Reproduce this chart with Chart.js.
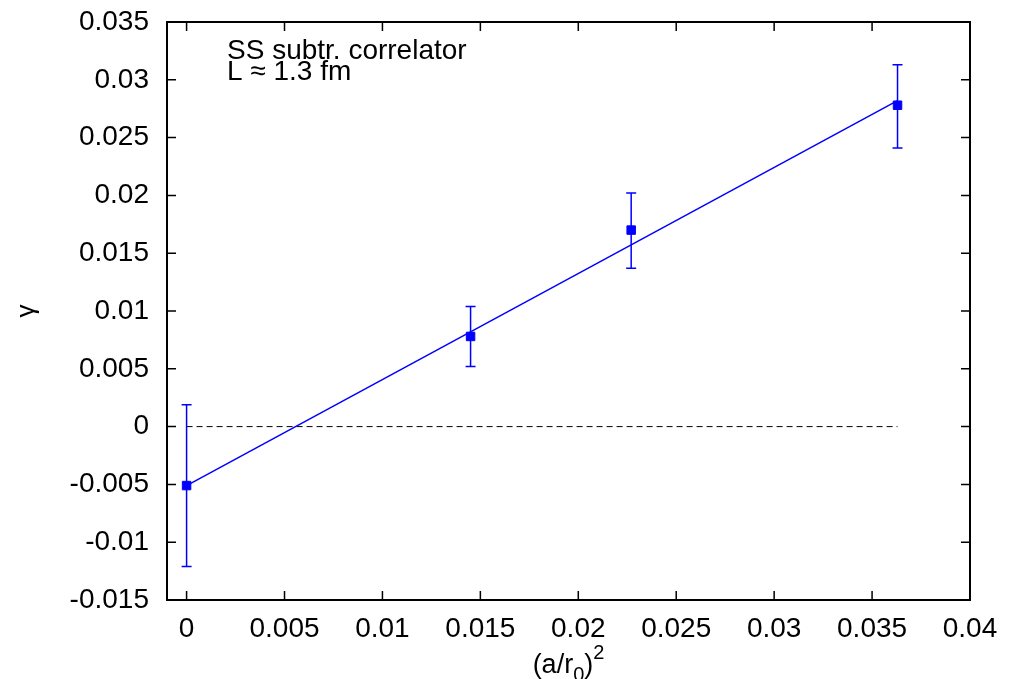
<!DOCTYPE html>
<html><head><meta charset="utf-8">
<script src="https://cdn.jsdelivr.net/npm/chart.js@4.4.1/dist/chart.umd.min.js"></script>
<style>html,body{margin:0;padding:0;background:#fff;}canvas{display:block;}</style>
</head><body>
<canvas id="c" width="1016" height="679"></canvas>
<script>
// ---- data ----
const xValues   = [0, 0.0145, 0.0227, 0.0363];
const yValues   = [-0.0051, 0.0078, 0.0170, 0.0278];
const yErrLow   = [-0.0121, 0.0052, 0.0137, 0.0241];
const yErrHigh  = [0.0019, 0.0104, 0.0202, 0.0313];
const fitX      = [0, 0.0363];
const fitY      = [-0.0051, 0.0282];
const zeroX     = [0, 0.0363];
const zeroY     = [0, 0];
const xTicks    = [0, 0.005, 0.01, 0.015, 0.02, 0.025, 0.03, 0.035, 0.04];
const xTickLabels = ['0','0.005','0.01','0.015','0.02','0.025','0.03','0.035','0.04'];
const yTicks    = [-0.015, -0.01, -0.005, 0, 0.005, 0.01, 0.015, 0.02, 0.025, 0.03, 0.035];
const yTickLabels = ['-0.015','-0.01','-0.005','0','0.005','0.01','0.015','0.02','0.025','0.03','0.035'];
const annotationLines = ['SS subtr. correlator', 'L \u2248 1.3 fm'];

const FONT = "'Liberation Sans', Arial, Helvetica, sans-serif";
const BLUE = '#0000ff';

const decorPlugin = {
  id: 'decor',
  afterDatasetsDraw(chart) {
    const ctx = chart.ctx, xs = chart.scales.x, ys = chart.scales.y;
    ctx.save();
    ctx.strokeStyle = BLUE; ctx.lineWidth = 1.5;
    for (let i = 0; i < xValues.length; i++) {
      const px = xs.getPixelForValue(xValues[i]);
      const lo = ys.getPixelForValue(yErrLow[i]);
      const hi = ys.getPixelForValue(yErrHigh[i]);
      ctx.beginPath();
      ctx.moveTo(px, lo); ctx.lineTo(px, hi);
      ctx.moveTo(px - 5, lo); ctx.lineTo(px + 5, lo);
      ctx.moveTo(px - 5, hi); ctx.lineTo(px + 5, hi);
      ctx.stroke();
    }
    ctx.restore();
  },
  afterDraw(chart) {
    const ctx = chart.ctx, xs = chart.scales.x, ys = chart.scales.y;
    const a = chart.chartArea;
    ctx.save();
    ctx.strokeStyle = '#000'; ctx.lineWidth = 2;
    ctx.strokeRect(a.left, a.top, a.right - a.left, a.bottom - a.top);
    ctx.lineWidth = 1.5;
    ctx.beginPath();
    const tl = 9;
    xTicks.forEach(v => {
      const p = xs.getPixelForValue(v);
      ctx.moveTo(p, a.bottom); ctx.lineTo(p, a.bottom - tl);
      ctx.moveTo(p, a.top); ctx.lineTo(p, a.top + tl);
    });
    yTicks.forEach(v => {
      const p = ys.getPixelForValue(v);
      ctx.moveTo(a.left, p); ctx.lineTo(a.left + tl, p);
      ctx.moveTo(a.right, p); ctx.lineTo(a.right - tl, p);
    });
    ctx.stroke();
    // annotation
    ctx.fillStyle = '#000';
    ctx.font = '28px ' + FONT;
    ctx.textAlign = 'left'; ctx.textBaseline = 'alphabetic';
    ctx.fillText(annotationLines[0], a.left + 60, a.top + 37);
    ctx.fillText(annotationLines[1], a.left + 60, a.top + 58);
    // y title (gamma), rotated
    ctx.save();
    ctx.translate(27, (a.top + a.bottom) / 2);
    ctx.rotate(-Math.PI / 2);
    ctx.font = '26px ' + FONT;
    ctx.textAlign = 'center'; ctx.textBaseline = 'middle';
    ctx.fillText('\u03b3', 0, 0);
    ctx.restore();
    // x title (a/r_0)^2
    const cx = (a.left + a.right) / 2;
    const base = 673;
    const mainF = '27px ' + FONT, smallF = '20px ' + FONT;
    const parts = [['(a/r', mainF, 0], ['0', smallF, 8], [')', mainF, 0], ['2', smallF, -14]];
    let total = 0;
    parts.forEach(p => { ctx.font = p[1]; total += ctx.measureText(p[0]).width; });
    let x = cx - total / 2;
    ctx.textAlign = 'left'; ctx.textBaseline = 'alphabetic';
    parts.forEach(p => { ctx.font = p[1]; ctx.fillText(p[0], x, base + p[2]); x += ctx.measureText(p[0]).width; });
    ctx.restore();
  }
};

new Chart(document.getElementById('c'), {
  type: 'scatter',
  data: {
    datasets: [
      { data: fitX.map((x, i) => ({x, y: fitY[i]})), showLine: true, borderColor: BLUE, borderWidth: 1.5, pointRadius: 0, order: 2 },
      { data: zeroX.map((x, i) => ({x, y: zeroY[i]})), showLine: true, borderColor: '#000', borderWidth: 1, borderDash: [6, 4], pointRadius: 0, order: 3 },
      { data: xValues.map((x, i) => ({x, y: yValues[i]})), showLine: false, pointStyle: 'rect', pointRadius: 6, pointBorderWidth: 1, backgroundColor: BLUE, borderColor: BLUE, order: 1 }
    ]
  },
  options: {
    responsive: false, animation: false, devicePixelRatio: 1,
    layout: { padding: { left: 0, right: 46, top: 22, bottom: 0 } },
    plugins: { legend: { display: false }, tooltip: { enabled: false } },
    scales: {
      x: {
        type: 'linear', min: -0.001, max: 0.04,
        afterBuildTicks: s => { s.ticks = xTicks.map(v => ({value: v})); },
        afterFit: s => { s.height = 79; s.paddingLeft = 0; s.paddingRight = 0; },
        grid: { display: false, drawTicks: false }, border: { display: false },
        ticks: { padding: 12, color: '#000', font: { family: FONT, size: 28 }, maxRotation: 0, autoSkip: false,
                 callback: (v, i) => xTickLabels[i] }
      },
      y: {
        type: 'linear', min: -0.015, max: 0.035,
        afterBuildTicks: s => { s.ticks = yTicks.map(v => ({value: v})); },
        afterFit: s => { s.width = 167; s.paddingTop = 0; s.paddingBottom = 0; },
        grid: { display: false, drawTicks: false }, border: { display: false },
        ticks: { padding: 18, color: '#000', font: { family: FONT, size: 28 }, autoSkip: false,
                 callback: (v, i) => yTickLabels[i] }
      }
    }
  },
  plugins: [decorPlugin]
});
</script>
</body></html>
